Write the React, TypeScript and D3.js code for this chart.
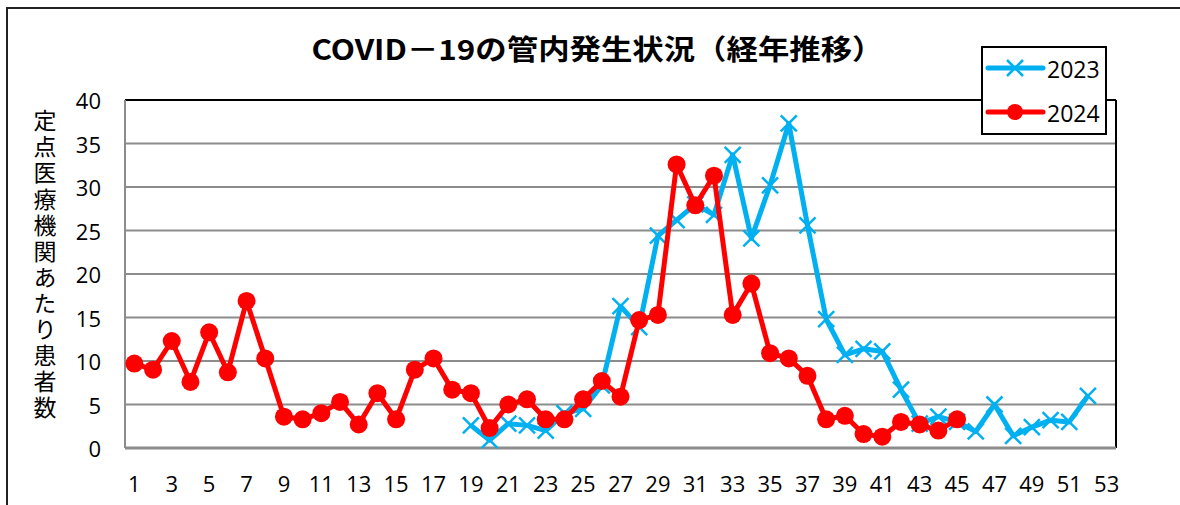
import React from "react";
import * as d3 from "d3";

const weeks: number[] = Array.from({ length: 53 }, (_, i) => i + 1);
const xTickLabels: number[] = [1, 3, 5, 7, 9, 11, 13, 15, 17, 19, 21, 23, 25, 27, 29, 31, 33, 35, 37, 39, 41, 43, 45, 47, 49, 51, 53];
const yTicks: number[] = [0, 5, 10, 15, 20, 25, 30, 35, 40];

// 2023: weeks 19..52
const weeks2023: number[] = [19, 20, 21, 22, 23, 24, 25, 26, 27, 28, 29, 30, 31, 32, 33, 34, 35, 36, 37, 38, 39, 40, 41, 42, 43, 44, 45, 46, 47, 48, 49, 50, 51, 52];
const values2023: number[] = [2.6, 0.9, 2.8, 2.6, 2.0, 4.0, 4.5, 7.2, 16.3, 13.9, 24.4, 26.2, 28.0, 26.8, 33.7, 24.1, 30.2, 37.3, 25.6, 14.8, 10.7, 11.4, 11.1, 6.7, 2.8, 3.6, 3.0, 1.9, 5.0, 1.4, 2.4, 3.2, 3.0, 6.0];

// 2024: weeks 1..45
const weeks2024: number[] = Array.from({ length: 45 }, (_, i) => i + 1);
const values2024: number[] = [9.7, 9.0, 12.3, 7.6, 13.3, 8.7, 16.9, 10.3, 3.6, 3.3, 4.0, 5.3, 2.7, 6.3, 3.3, 9.0, 10.3, 6.7, 6.3, 2.3, 5.0, 5.6, 3.3, 3.3, 5.6, 7.7, 5.9, 14.7, 15.3, 32.6, 27.9, 31.3, 15.3, 18.9, 10.9, 10.3, 8.3, 3.3, 3.7, 1.6, 1.3, 3.0, 2.7, 2.0, 3.3];

const seriesNames: string[] = ["2023", "2024"];
const titleText = "COVID－19の管内発生状況（経年推移）";
const yLabelText = "定点医療機関あたり患者数";

const BLUE = "#00B0F0";
const RED = "#FF0000";

export default function App() {
  const left = 125, right = 1116, top = 100, bottom = 448;
  const x = d3.scaleBand<number>().domain(weeks).range([left, right]).padding(0);
  const xc = (w: number) => (x(w) as number) + x.bandwidth() / 2;
  const y = d3.scaleLinear().domain([0, 40]).range([bottom, top]);

  const d23 = weeks2023.map((w, i) => ({ w, v: values2023[i] }));
  const d24 = weeks2024.map((w, i) => ({ w, v: values2024[i] }));
  const line = d3.line<{ w: number; v: number }>().x(d => xc(d.w)).y(d => y(d.v));

  const cross = (cx: number, cy: number, s: number, key: string | number, sw = 2.5) => (
    <g key={key} stroke={BLUE} strokeWidth={sw} fill="none">
      <line x1={cx - s} y1={cy - s} x2={cx + s} y2={cy + s} />
      <line x1={cx - s} y1={cy + s} x2={cx + s} y2={cy - s} />
    </g>
  );

  const tickFont = "'Open Sans', 'DejaVu Sans', sans-serif";

  return (
    <svg width={1180} height={505} style={{ position: "absolute", left: 0, top: 0, background: "#fff" }}>
      {/* outer frame */}
      <rect x={7} y={8} width={1300} height={600} fill="#fff" stroke="#222" strokeWidth={2} />

      {/* title */}
      <text x={597.5} y={48} textAnchor="middle" dominantBaseline="central"
        fontFamily="'Noto Sans CJK JP', sans-serif" fontWeight="bold" fontSize={28}
        textLength={572} lengthAdjust="spacingAndGlyphs">{titleText}</text>

      {/* gridlines */}
      {yTicks.filter(t => t > 0 && t < 40).map(t => (
        <line key={t} x1={left} x2={right} y1={y(t)} y2={y(t)} stroke="#8c8c8c" strokeWidth={2} />
      ))}
      {/* plot borders */}
      <line x1={left} x2={right} y1={top} y2={top} stroke="#000" strokeWidth={2} />
      <line x1={right} x2={right} y1={top} y2={bottom} stroke="#000" strokeWidth={2} />
      <line x1={left} x2={left} y1={top} y2={bottom} stroke="#8c8c8c" strokeWidth={2} />
      <line x1={left} x2={right} y1={bottom} y2={bottom} stroke="#8c8c8c" strokeWidth={3} />

      {/* y ticks */}
      {yTicks.map(t => (
        <text key={t} x={101} y={y(t)} textAnchor="end" dominantBaseline="central"
          fontFamily={tickFont} fontSize={22} fill="#000">{t}</text>
      ))}
      {/* x ticks */}
      {xTickLabels.map(t => (
        <text key={t} x={xc(t)} y={483} textAnchor="middle" dominantBaseline="central"
          fontFamily={tickFont} fontSize={22} fill="#000">{t}</text>
      ))}

      {/* y axis label (vertical) */}
      <text x={45} y={109} style={{ writingMode: "vertical-rl" }}
        fontFamily="'Noto Sans CJK JP', sans-serif" fontSize={23} letterSpacing={3.1} fill="#000">{yLabelText}</text>

      {/* 2023 series */}
      <path d={line(d23) || ""} fill="none" stroke={BLUE} strokeWidth={5} strokeLinejoin="round" />
      {d23.map((d, i) => cross(xc(d.w), y(d.v), 8, "c" + i))}

      {/* 2024 series */}
      <path d={line(d24) || ""} fill="none" stroke={RED} strokeWidth={5} strokeLinejoin="round" />
      {d24.map((d, i) => (
        <circle key={i} cx={xc(d.w)} cy={y(d.v)} r={9} fill={RED} />
      ))}

      {/* legend */}
      <rect x={982} y={47} width={124} height={87} fill="#fff" stroke="#000" strokeWidth={2} />
      <line x1={988} x2={1043} y1={68} y2={68} stroke={BLUE} strokeWidth={5} strokeLinecap="round" />
      {cross(1015, 68, 8, "lg")}
      <text x={1047} y={69} dominantBaseline="central" fontFamily={tickFont} fontSize={23}>{seriesNames[0]}</text>
      <line x1={988} x2={1043} y1={112} y2={112} stroke={RED} strokeWidth={5} strokeLinecap="round" />
      <circle cx={1015} cy={112} r={8} fill={RED} />
      <text x={1047} y={113} dominantBaseline="central" fontFamily={tickFont} fontSize={23}>{seriesNames[1]}</text>
    </svg>
  );
}
